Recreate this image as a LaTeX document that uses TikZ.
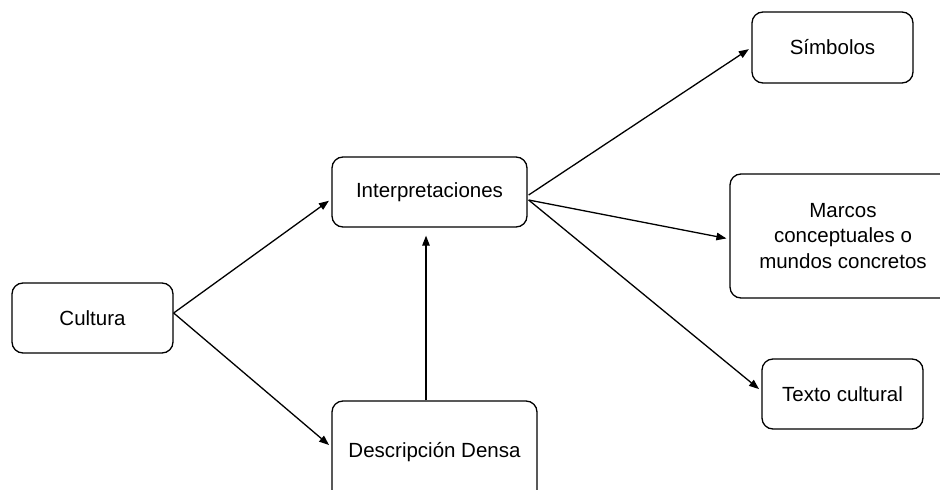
\documentclass[tikz,border=0pt]{standalone}
\usepackage{fontspec}
\setmainfont{Liberation Sans}
\usetikzlibrary{arrows.meta,calc}
\begin{document}
\begin{tikzpicture}[x=1pt,y=-1pt,
  box/.style={draw=black,line width=1.3pt,rounded corners=11pt,fill=white,
    align=center,inner sep=0pt,font=\fontsize{20.5}{25.5}\selectfont},
  arr/.style={draw=black,line width=1.3pt,-{Triangle[length=10pt,width=7.5pt]}}]
\clip (0,0) rectangle (940,490);
\fill[white] (0,0) rectangle (940,490);
\node[box,minimum width=161pt,minimum height=70pt] (cultura) at (92.5,318) {Cultura};
\node[box,minimum width=195pt,minimum height=70pt] (interp) at (429.5,192) {Interpretaciones};
\node[box,minimum width=205pt,minimum height=102pt] (desc) at (434.5,452) {Descripción Densa};
\node[box,minimum width=161pt,minimum height=71pt] (simb) at (832.5,47.5) {Símbolos};
\node[box,minimum width=226pt,minimum height=124pt] (marcos) at (843,236) {Marcos\\conceptuales o\\mundos concretos};
\node[box,minimum width=161pt,minimum height=70pt] (texto) at (842.5,394) {Texto cultural};
\draw[arr,shorten >=3pt] ($(cultura.east)+(0,-5)$) -- ($(interp.west)+(0,7)$);
\draw[arr,shorten >=3pt] ($(cultura.east)+(0,-5)$) -- ($(desc.west)+(0,-5)$);
\draw[arr,shorten >=8pt] ([xshift=-8.5pt]desc.north) -- ([xshift=-8.5pt]desc.north |- interp.south);
\draw[arr,shorten >=3pt] ($(interp.east)+(1,3)$) -- (simb.west);
\draw[arr,shorten >=3pt] ($(interp.east)+(1,8)$) -- ($(marcos.west)+(0,3)$);
\draw[arr,shorten >=3pt] ($(interp.east)+(1,8)$) -- ($(texto.west)+(0,-3)$);
\end{tikzpicture}
\end{document}
